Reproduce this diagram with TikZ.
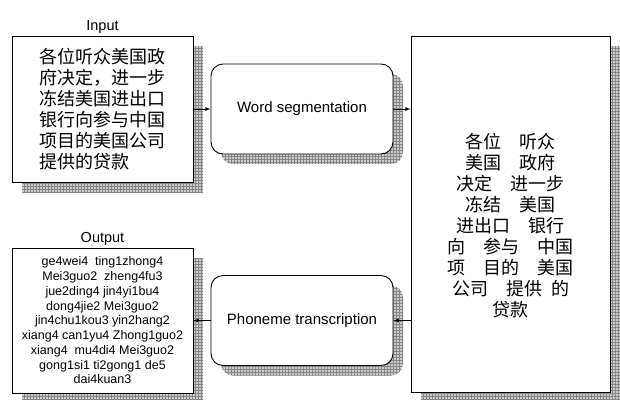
\documentclass[tikz,border=0pt]{standalone}
\usepackage{fontspec}
\setmainfont{Liberation Sans}
\newfontfamily\cjkfont{Noto Sans CJK SC}
\usetikzlibrary{
  positioning,
  shadows,
  patterns
}
\tikzset{>=latex}
\tikzset{
  boxshadow/.style={drop shadow={shadow xshift=10pt, shadow yshift=-10pt,
      opacity=1, fill=gray!40, postaction={pattern=grid, pattern color=gray!95}}},
  textbox/.style={draw, line width=0.9pt, fill=white, boxshadow, inner sep=0pt},
  procbox/.style={textbox, rounded corners=12pt, minimum width=182pt,
    minimum height=90pt, font=\fontsize{15}{18}\selectfont},
  cjktext/.style={font=\cjkfont\fontsize{18}{21}\selectfont},
  pinyin/.style={font=\fontsize{12.5}{14.75}\selectfont},
  boxtitle/.style={font=\fontsize{14.5}{17}\selectfont, inner sep=1pt},
  flow/.style={->, line width=0.8pt}
}

\begin{document}
\begin{tikzpicture}[x=1pt, y=-1pt]
  \useasboundingbox (0,0) rectangle (620,399);
  % input sentence
  \node[textbox, cjktext, minimum width=181pt, minimum height=146pt,
    align=left] (inbox) at (102.5,109)
    {各位听众美国政\\
     府决定，进一步\\
     冻结美国进出口\\
     银行向参与中国\\
     项目的美国公司\\
     提供的贷款\hspace{2em}};
  \node[boxtitle, above=1pt of inbox] (intitle) {Input};
  % processing steps
  \node[procbox] (ws) at (302,109) {Word segmentation};
  \node[procbox] (pt) at (302,320.5) {Phoneme transcription};
  % segmented text
  \node[textbox, minimum width=199pt, minimum height=356pt] (seg) at (510.5,214) {};
  \node[cjktext, align=center] (segtext) at ([yshift=-12pt]seg.center)
    {各位\hspace{1em}听众\\
     美国\hspace{1em}政府\\
     决定\hspace{1em}进一步\\
     冻结\hspace{1em}美国\\
     进出口\hspace{1em}银行\\
     向\hspace{1em}参与\hspace{1em}中国\\
     项\hspace{1em}目的\hspace{1em}美国\\
     公司\hspace{1em}提供\hspace{0.5em}的\\
     贷款};
  % output pinyin
  \node[textbox, pinyin, minimum width=181pt, minimum height=145pt,
    align=center] (outbox) at (102.5,320.5)
    {ge4wei4\ \ ting1zhong4\\
     Mei3guo2\ \ zheng4fu3\\
     jue2ding4 jin4yi1bu4\\
     dong4jie2 Mei3guo2\\
     jin4chu1kou3 yin2hang2\\
     xiang4 can1yu4 Zhong1guo2\\
     xiang4\ \ mu4di4 Mei3guo2\\
     gong1si1 ti2gong1 de5\\
     dai4kuan3};
  \node[boxtitle, above=1pt of outbox] (outtitle) {Output};
  % connectors
  \draw[flow] (inbox) -- (ws);
  \draw[flow] (ws.east) -- (ws.east -| seg.west);
  \draw[flow] (pt.east -| seg.west) -- (pt.east);
  \draw[flow] (pt) -- (outbox);
\end{tikzpicture}
\end{document}
